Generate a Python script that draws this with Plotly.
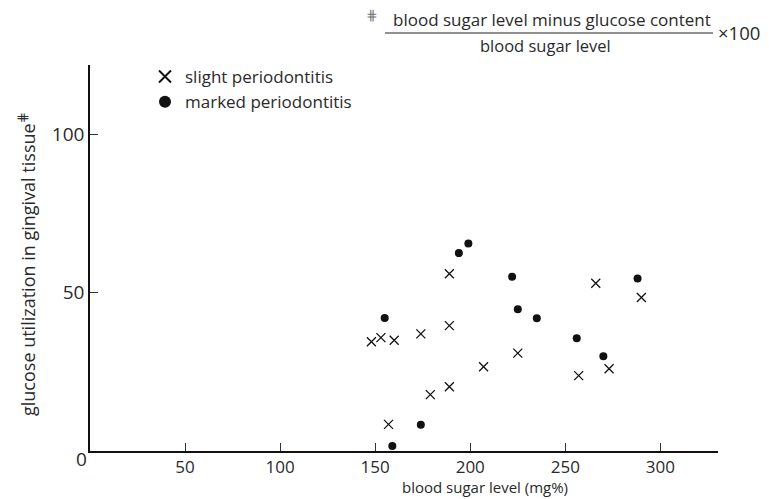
import plotly.graph_objects as go

# slight periodontitis (x markers)
slight_x = [148, 153, 160, 157, 174, 179, 189, 189, 189, 207, 225, 257, 266, 273, 290]
slight_y = [34.5, 35.8, 35.0, 8.4, 37.0, 17.8, 56.0, 39.6, 20.3, 26.6, 30.9, 23.8, 53.0, 26.0, 48.5]

# marked periodontitis (dots)
marked_x = [155, 159, 174, 194, 199, 222, 225, 235, 256, 270, 288]
marked_y = [42.0, 1.6, 8.3, 62.5, 65.5, 55.0, 44.8, 41.9, 35.6, 29.9, 54.5]

x_ticks = [50, 100, 150, 200, 250, 300]
y_ticks = [50, 100]

FONT = "Open Sans"
TXT = "#2a2a2a"

W, H = 769, 499
l, r, t, b = 90, 51, 65, 48
pw, ph = W - l - r, H - t - b


def px(xp):
    return (xp - l) / pw


def py(yp):
    return (H - b - yp) / ph


fig = go.Figure()
fig.add_trace(go.Scatter(
    x=slight_x, y=slight_y, mode="markers", name="slight periodontitis",
    marker=dict(symbol="x-thin-open", size=9, color="#111",
                line=dict(width=1.3, color="#111")),
))
fig.add_trace(go.Scatter(
    x=marked_x, y=marked_y, mode="markers", name="marked periodontitis",
    marker=dict(symbol="circle", size=8, color="#111"),
))

fig.update_layout(
    width=W, height=H,
    margin=dict(l=l, r=r, t=t, b=b),
    paper_bgcolor="white", plot_bgcolor="white",
    font=dict(family=FONT, color=TXT, size=16),
    showlegend=True,
    legend=dict(x=px(145), y=py(59), xanchor="left", yanchor="top",
                bgcolor="rgba(0,0,0,0)", font=dict(size=17, color=TXT),
                tracegroupgap=0, itemsizing="constant"),
    xaxis=dict(range=[0, 330.3], tickvals=x_ticks, ticktext=[str(v) for v in x_ticks],
               showgrid=False, zeroline=False, showline=True, linecolor="#111", linewidth=1.5,
               ticks="inside", ticklen=8, tickcolor="#333", tickwidth=1,
               tickfont=dict(size=17, color=TXT)),
    yaxis=dict(range=[0, 121.9], tickvals=y_ticks, ticktext=[str(v) for v in y_ticks],
               showgrid=False, zeroline=False, showline=True, linecolor="#111", linewidth=1.5,
               ticks="inside", ticklen=8, tickcolor="#333", tickwidth=1,
               tickfont=dict(size=19, color=TXT)),
)

# axis titles
fig.add_annotation(x=px(485), y=0, yshift=-(H - b) + 499 - 499, xref="paper", yref="paper",
                   text="blood sugar level (mg%)", showarrow=False,
                   xanchor="center", yanchor="top",
                   font=dict(size=15, color=TXT))
fig.add_annotation(x=px(27), y=py(264), xref="paper", yref="paper",
                   text="glucose utilization in gingival tissue<sup>⋕</sup>",
                   textangle=-90, showarrow=False,
                   xanchor="center", yanchor="middle",
                   font=dict(size=18, color=TXT))

# corner "0" label
fig.add_annotation(x=px(81), y=py(459), xref="paper", yref="paper", text="0",
                   showarrow=False, xanchor="center", yanchor="middle",
                   font=dict(size=19, color=TXT))

# formula footnote at top right
fig.add_annotation(x=px(372), y=py(15), xref="paper", yref="paper", text="⋕",
                   showarrow=False, xanchor="center", yanchor="middle",
                   font=dict(size=14, color="#777"))
fig.add_annotation(x=px(552), y=py(19), xref="paper", yref="paper",
                   text="blood sugar level minus glucose content",
                   showarrow=False, xanchor="center", yanchor="middle",
                   font=dict(size=17, color=TXT))
fig.add_annotation(x=px(545), y=py(45), xref="paper", yref="paper",
                   text="blood sugar level",
                   showarrow=False, xanchor="center", yanchor="middle",
                   font=dict(size=16.5, color=TXT))
fig.add_annotation(x=px(716), y=py(33), xref="paper", yref="paper",
                   text="×100",
                   showarrow=False, xanchor="left", yanchor="middle",
                   font=dict(size=18.5, color=TXT))
fig.add_shape(type="line", xref="paper", yref="paper",
              x0=px(385), x1=px(713), y0=py(33), y1=py(33),
              line=dict(color="#222", width=1.2))

# place x title so that its bottom sits at the image bottom
fig.layout.annotations[0].update(y=py(499), yanchor="bottom", yshift=0)

fig.write_html("out.html")
